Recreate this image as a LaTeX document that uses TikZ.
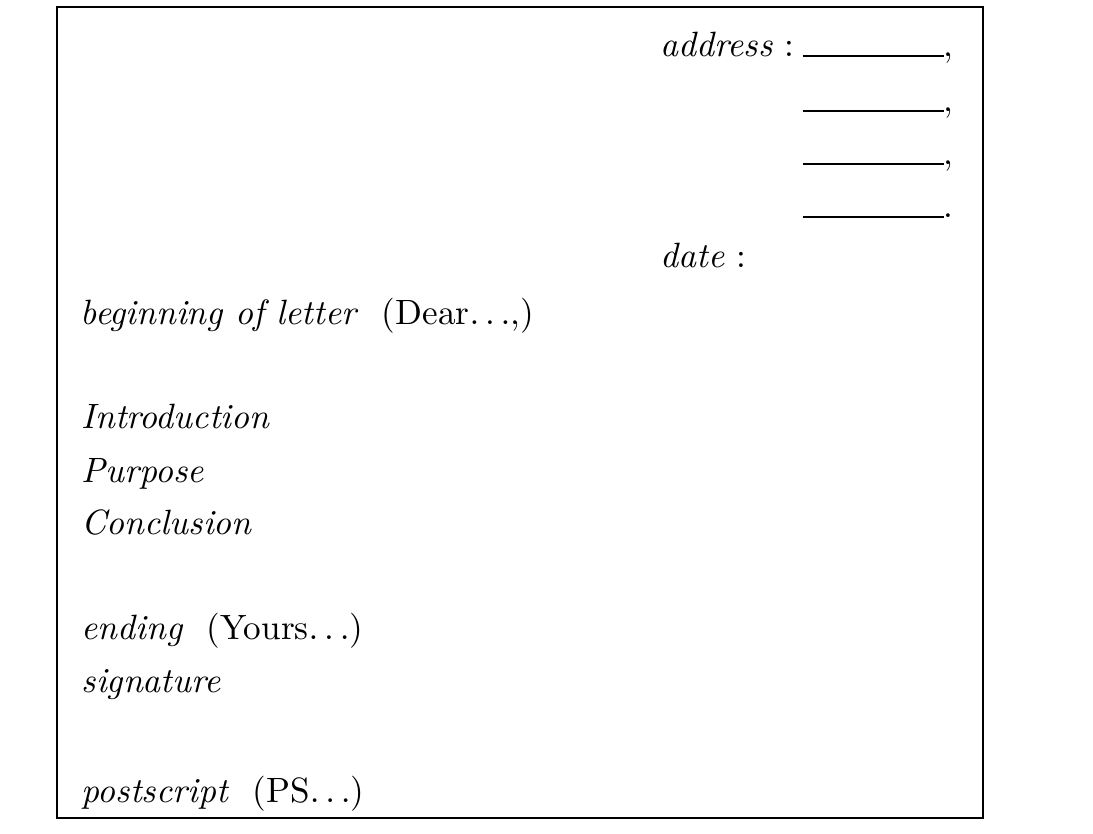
\documentclass[tikz,border=0pt]{standalone}
\usepackage{amsmath}
\usepackage{tikz}
\usetikzlibrary{positioning}

\begin{document}
\begin{tikzpicture}[x=0.01cm, y=-0.01cm,
		entry/.style={anchor=base west, inner sep=0pt},
		blank/.style={anchor=base west, inner sep=0pt}]
			\useasboundingbox (0,0) rectangle (1093,834);
			
			%% Briefbogen
			\draw [semithick] (57,7) rectangle (983,818);
			
			%% Adresse
			\node [entry, anchor=base east] (address) at (795,57) {\textit{address}\/\,\,:};
			\node [blank] (blankA) at (802,57) {\rule{1.41cm}{0.5pt},};
			\node [blank] (blankB) at (802,112) {\rule{1.41cm}{0.5pt},};
			\node [blank] (blankC) at (802,165) {\rule{1.41cm}{0.5pt},};
			\node [blank] (blankD) at (802,218) {\rule{1.41cm}{0.5pt}.};
			
			%% Datum
			\node [entry] (date) at (660,268) {\textit{date}\/\,\,:};
			
			%% Text
			\node [entry] (begin) at (80,325) {\textit{beginning of letter}\/\ \ (Dear$\ldots$,)};
			\node [entry] (intro) at (81,429) {\textit{Introduction}};
			\node [entry] (purpose) at (81,483) {\textit{Purpose}};
			\node [entry] (concl) at (81,535) {\textit{Conclusion}};
			\node [entry] (ending) at (81,640) {\textit{ending}\/\ \ (Yours$\ldots$)};
			\node [entry] (sign) at (81,693) {\textit{signature}};
			
			%% PS
			\node [entry] (ps) at (81,803) {\textit{postscript}\/\ \ (PS$\ldots$)};
		\end{tikzpicture}
\end{document}
